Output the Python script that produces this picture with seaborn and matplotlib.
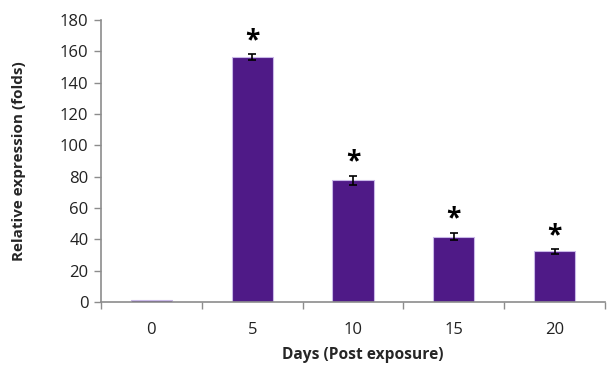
import matplotlib
matplotlib.use("Agg")
import matplotlib.pyplot as plt
import seaborn as sns
import pandas as pd
import numpy as np
from matplotlib.ticker import FixedLocator

days = ["0", "5", "10", "15", "20"]
expression = [1.0, 156.5, 77.8, 41.8, 32.3]
errors = [0.0, 1.8, 2.8, 2.5, 1.4]
significant = [False, True, True, True, True]

sns.set_style("white")
plt.rcParams['font.family'] = ['Open Sans', 'DejaVu Sans']

df = pd.DataFrame({"Days": days, "Expression": expression})

fig = plt.figure(figsize=(6.16, 3.65), dpi=100)
ax = fig.add_axes([0.164, 0.1726, 0.818, 0.7724])

bar_color = "#4f1a87"
sns.barplot(data=df, x="Days", y="Expression", color=bar_color, width=0.41,
            saturation=1, edgecolor="#c9b8e8", linewidth=0.8, errorbar=None, ax=ax)

x = np.arange(len(days))
for xi, v, e in zip(x, expression, errors):
    if e > 0:
        ax.errorbar(xi, v, yerr=e, fmt="none", ecolor="black",
                    elinewidth=1.2, capsize=3, capthick=1.2)

for xi, v, e, s in zip(x, expression, errors, significant):
    if s:
        ax.annotate("*", xy=(xi, v + e), xytext=(0, 0), textcoords="offset points",
                    ha="center", va="bottom", fontsize=19, fontweight="bold",
                    color="black")

ax.set_ylim(0, 180)
ax.set_yticks(range(0, 181, 20))
ax.set_xlim(-0.5, 4.5)

gray = "#8c8c8c"
for side in ["top", "right"]:
    ax.spines[side].set_visible(False)
for side in ["left", "bottom"]:
    ax.spines[side].set_color(gray)
    ax.spines[side].set_linewidth(1.2)

ax.tick_params(axis="y", which="major", left=True, length=5, color=gray,
               width=1, labelsize=12, pad=4, direction="out", labelcolor="#222222")
ax.tick_params(axis="x", which="major", bottom=False, labelsize=12, pad=11,
               labelcolor="#222222")
ax.xaxis.set_minor_locator(FixedLocator([-0.5, 0.5, 1.5, 2.5, 3.5, 4.5]))
ax.tick_params(axis="x", which="minor", bottom=True, length=5, color=gray,
               width=1, direction="out")

ax.set_xlabel("Days (Post exposure)", fontsize=11.2, fontweight="bold")
ax.set_ylabel("Relative expression (folds)", fontsize=11, fontweight="bold")
ax.xaxis.set_label_coords(0.52, -0.16)
ax.yaxis.set_label_coords(-0.149, 0.5)

fig.savefig("out.png", dpi=100)
